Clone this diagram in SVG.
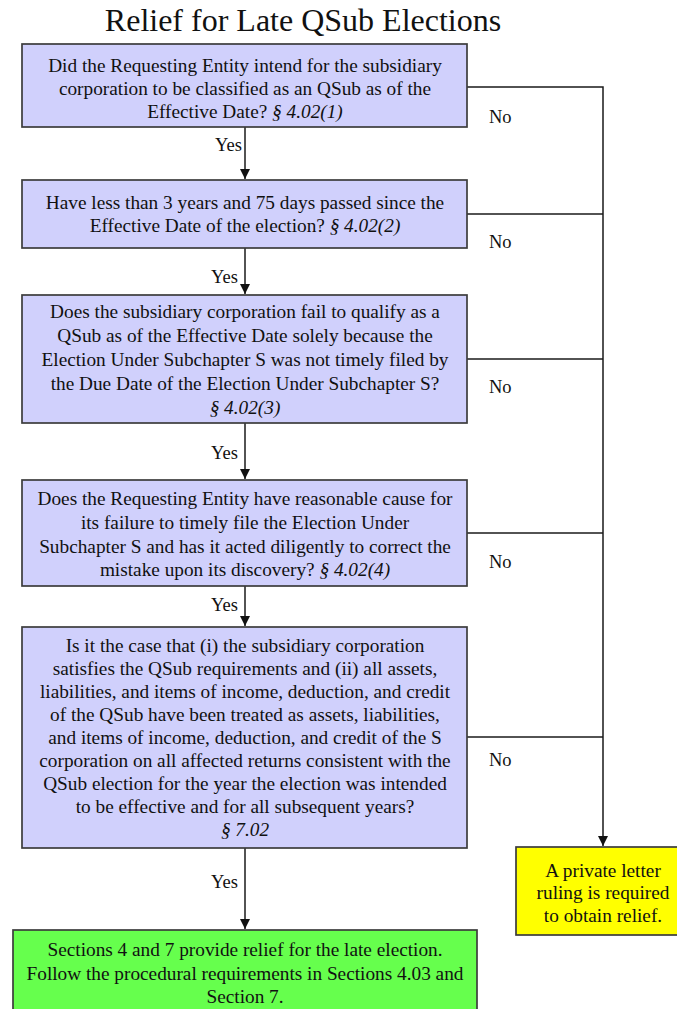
<svg xmlns="http://www.w3.org/2000/svg" width="677" height="1009" viewBox="0 0 677 1009">
<defs>
<marker id="arr" markerWidth="10" markerHeight="12" refX="10" refY="5" orient="auto" markerUnits="userSpaceOnUse">
<path d="M0,0 L10,5 L0,10 Z" fill="#111"/>
</marker>
<style>
text{font-family:"Liberation Serif","Times New Roman",serif;fill:#111}
.t{font-size:19.3px;text-anchor:middle}
.title{font-size:32px;text-anchor:middle}
.lbl{font-size:18.5px}
.y{text-anchor:end}
.i{font-style:italic}
.q{fill:#d0d0fc;stroke:#3c3c3c;stroke-width:1.7}
.c{fill:none;stroke:#1a1a1a;stroke-width:1.5}
</style>
</defs>
<rect width="677" height="1009" fill="#fff"/>
<text class="title" x="303" y="31">Relief for Late QSub Elections</text>

<g id="connectors">
<path class="c" d="M245,127 V179" marker-end="url(#arr)"/>
<path class="c" d="M245,248 V294" marker-end="url(#arr)"/>
<path class="c" d="M245,423 V479" marker-end="url(#arr)"/>
<path class="c" d="M245,586 V626" marker-end="url(#arr)"/>
<path class="c" d="M245,848 V929" marker-end="url(#arr)"/>
<path class="c" d="M467,87 H603 V846" marker-end="url(#arr)"/>
<path class="c" d="M467,214 H603"/>
<path class="c" d="M467,359 H603"/>
<path class="c" d="M467,533 H603"/>
<path class="c" d="M467,737 H603"/>
<text class="lbl y" x="242" y="151">Yes</text>
<text class="lbl y" x="238" y="283">Yes</text>
<text class="lbl y" x="238" y="459">Yes</text>
<text class="lbl y" x="238" y="611">Yes</text>
<text class="lbl y" x="238" y="888">Yes</text>
<text class="lbl" x="489" y="123">No</text>
<text class="lbl" x="489" y="248">No</text>
<text class="lbl" x="489" y="393">No</text>
<text class="lbl" x="489" y="568">No</text>
<text class="lbl" x="489" y="766">No</text>
</g>

<g id="q1">
<rect class="q" x="22" y="44" width="445" height="83"/>
<text class="t" x="245" y="72">Did the Requesting Entity intend for the subsidiary</text>
<text class="t" x="245" y="95">corporation to be classified as an QSub as of the</text>
<text class="t" x="245" y="118">Effective Date? <tspan class="i">§ 4.02(1)</tspan></text>
</g>

<g id="q2">
<rect class="q" x="22" y="180" width="445" height="68"/>
<text class="t" x="245" y="209">Have less than 3 years and 75 days passed since the</text>
<text class="t" x="245" y="232">Effective Date of the election? <tspan class="i">§ 4.02(2)</tspan></text>
</g>

<g id="q3">
<rect class="q" x="22" y="295" width="445" height="128"/>
<text class="t" x="245" y="318">Does the subsidiary corporation fail to qualify as a</text>
<text class="t" x="245" y="342">QSub as of the Effective Date solely because the</text>
<text class="t" x="245" y="366">Election Under Subchapter S was not timely filed by</text>
<text class="t" x="245" y="390">the Due Date of the Election Under Subchapter S?</text>
<text class="t i" x="245" y="414">§ 4.02(3)</text>
</g>

<g id="q4">
<rect class="q" x="22" y="480" width="445" height="106"/>
<text class="t" x="245" y="505">Does the Requesting Entity have reasonable cause for</text>
<text class="t" x="245" y="529">its failure to timely file the Election Under</text>
<text class="t" x="245" y="553">Subchapter S and has it acted diligently to correct the</text>
<text class="t" x="245" y="576">mistake upon its discovery? <tspan class="i">§ 4.02(4)</tspan></text>
</g>

<g id="q5">
<rect class="q" x="22" y="627" width="445" height="221"/>
<text class="t" x="245" y="652">Is it the case that (i) the subsidiary corporation</text>
<text class="t" x="245" y="675">satisfies the QSub requirements and (ii) all assets,</text>
<text class="t" x="245" y="698">liabilities, and items of income, deduction, and credit</text>
<text class="t" x="245" y="721">of the QSub have been treated as assets, liabilities,</text>
<text class="t" x="245" y="744">and items of income, deduction, and credit of the S</text>
<text class="t" x="245" y="767">corporation on all affected returns consistent with the</text>
<text class="t" x="245" y="790">QSub election for the year the election was intended</text>
<text class="t" x="245" y="813">to be effective and for all subsequent years?</text>
<text class="t i" x="245" y="836">§ 7.02</text>
</g>

<g id="plr">
<rect x="516" y="847" width="175" height="88" fill="#ffff00" stroke="#3c3c3c" stroke-width="1.7"/>
<text class="t" x="603" y="877">A private letter</text>
<text class="t" x="603" y="899">ruling is required</text>
<text class="t" x="603" y="922">to obtain relief.</text>
</g>

<g id="relief">
<rect x="13" y="930" width="464" height="90" fill="#66ff4d" stroke="#3c3c3c" stroke-width="1.7"/>
<text class="t" x="245" y="956">Sections 4 and 7 provide relief for the late election.</text>
<text class="t" x="245" y="980">Follow the procedural requirements in Sections 4.03 and</text>
<text class="t" x="245" y="1003">Section 7.</text>
</g>
</svg>
